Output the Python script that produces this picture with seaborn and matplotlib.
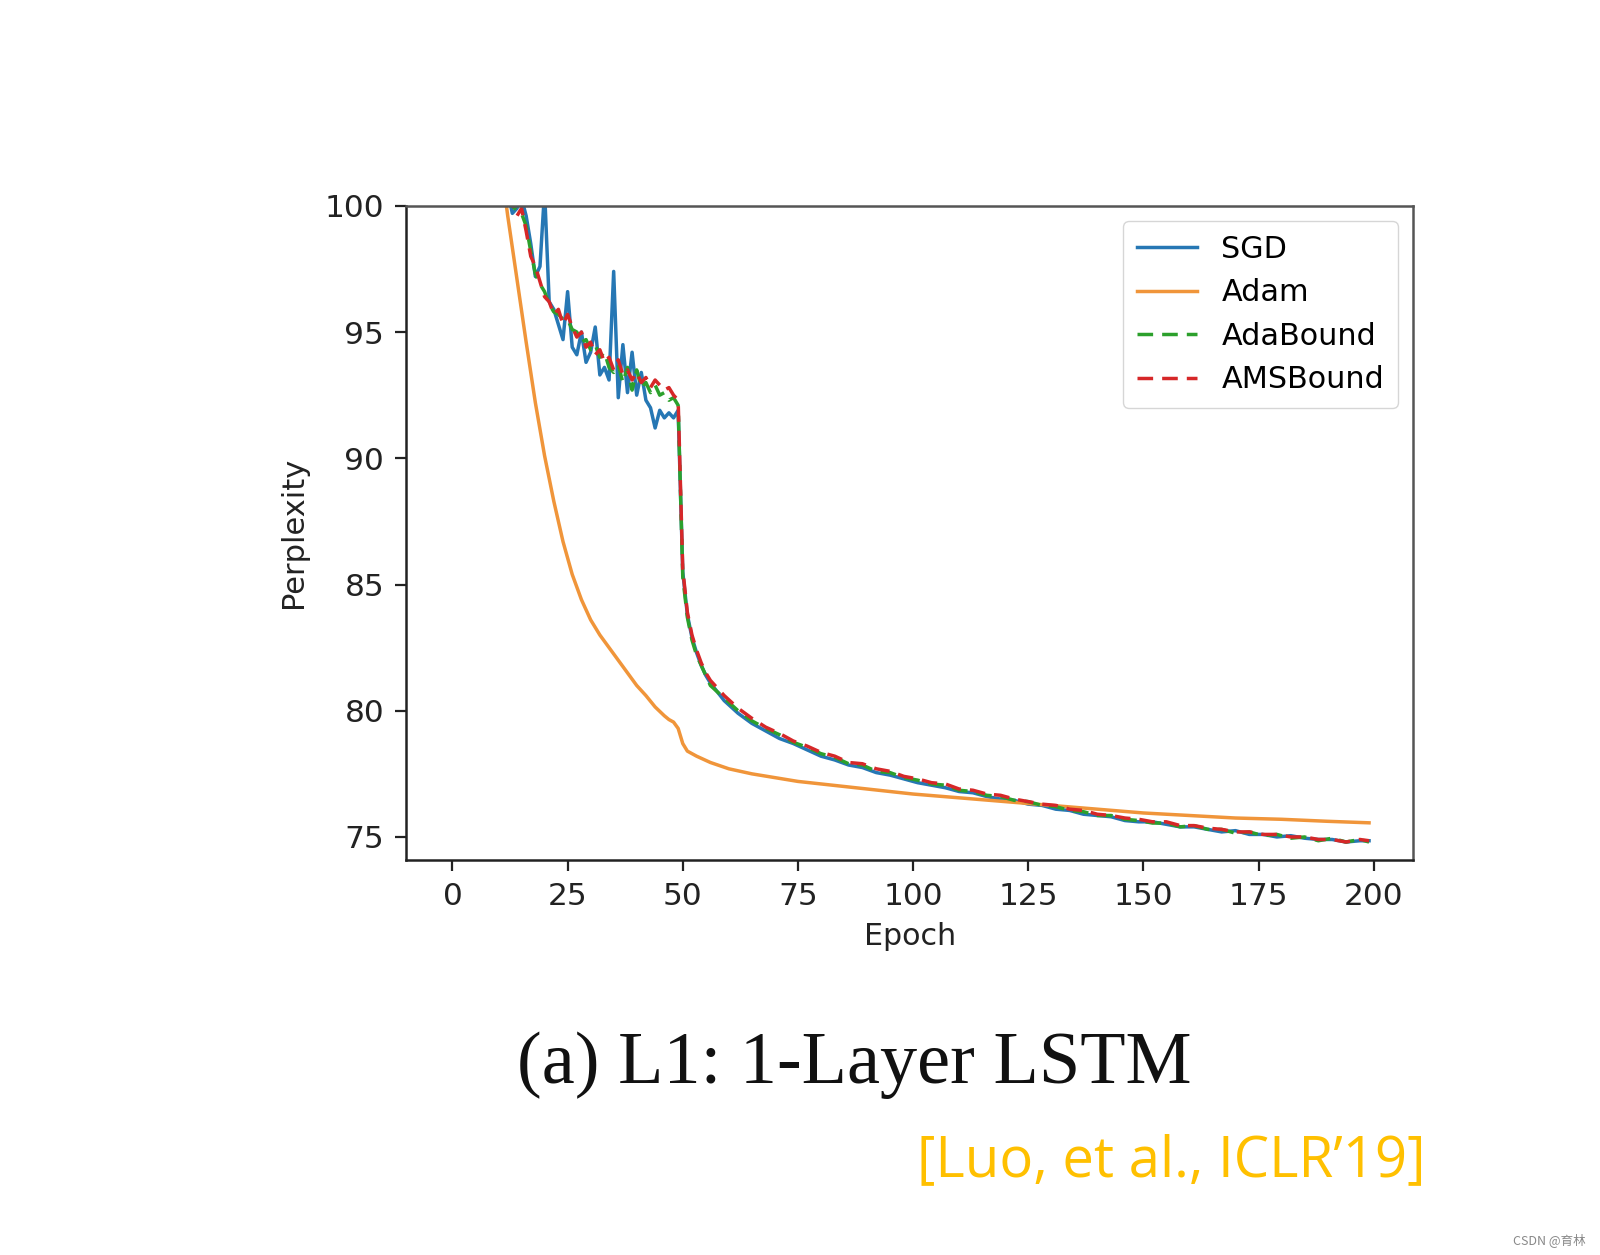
import matplotlib
matplotlib.use("Agg")
import matplotlib.pyplot as plt
import seaborn as sns

# epochs shared by SGD / AdaBound / AMSBound
bound_epochs = list(range(10, 57)) + list(range(59, 198, 3)) + [199]

sgd = [102.5, 101.5, 100.6, 99.7, 99.9, 100.3, 99.6, 98.5, 97.2, 97.6,
       100.6, 96.2, 95.9, 95.3, 94.7, 96.6, 94.4, 94.1, 95.0, 93.8,
       94.2, 95.2, 93.3, 93.6, 93.1, 97.4, 92.4, 94.5, 92.6, 94.2,
       92.5, 93.4, 92.3, 92.0, 91.2, 91.9, 91.6, 91.8, 91.6, 91.9,
       85.5, 83.8, 82.9, 82.3, 81.8, 81.4, 81.1,
       80.4, 79.9, 79.5, 79.2, 78.9, 78.7, 78.45, 78.2, 78.05, 77.85,
       77.75, 77.55, 77.45, 77.3, 77.15, 77.05, 76.95, 76.8, 76.75, 76.6,
       76.5, 76.45, 76.3, 76.25, 76.1, 76.05, 75.9, 75.85, 75.8, 75.65,
       75.6, 75.6, 75.5, 75.4, 75.4, 75.3, 75.2, 75.25, 75.1, 75.1,
       75.0, 75.05, 74.95, 74.9, 74.9, 74.8, 74.85, 74.85]

adabound = [102.3, 101.3, 100.5, 100.0, 99.8, 99.7, 99.2, 98.2, 97.3, 96.9,
            96.6, 96.1, 95.8, 95.7, 95.5, 95.5, 95.1, 95.0, 94.6, 94.7,
            94.3, 94.5, 94.0, 94.2, 93.6, 93.4, 93.7, 93.0, 93.6, 92.7,
            93.5, 92.8, 93.0, 92.6, 92.9, 92.5, 92.6, 92.3, 92.4, 92.1,
            85.3, 83.7, 82.8, 82.2, 81.8, 81.4, 81.0,
            80.5, 80.0, 79.6, 79.3, 79.05, 78.75, 78.55, 78.3, 78.15, 77.9,
            77.85, 77.6, 77.55, 77.35, 77.25, 77.1, 77.05, 76.85, 76.8, 76.65,
            76.6, 76.45, 76.4, 76.25, 76.2, 76.05, 76.0, 75.85, 75.85, 75.7,
            75.65, 75.55, 75.55, 75.4, 75.45, 75.3, 75.3, 75.15, 75.2, 75.05,
            75.1, 74.95, 75.0, 74.85, 74.95, 74.8, 74.9, 74.8]

amsbound = [102.4, 101.2, 100.4, 100.1, 99.6, 99.9, 99.0, 98.0, 97.6, 97.0,
            96.4, 96.2, 95.7, 95.9, 95.3, 95.7, 95.2, 94.8, 95.0, 94.4,
            94.6, 94.1, 94.3, 93.8, 94.0, 93.5, 93.9, 93.3, 93.5, 93.1,
            93.4, 93.0, 93.2, 92.8, 93.1, 92.9, 92.7, 92.8, 92.5, 92.3,
            85.6, 83.9, 83.0, 82.4, 81.9, 81.5, 81.2,
            80.6, 80.1, 79.7, 79.35, 79.1, 78.8, 78.6, 78.35, 78.2, 77.95,
            77.9, 77.7, 77.6, 77.4, 77.3, 77.15, 77.1, 76.9, 76.85, 76.7,
            76.65, 76.5, 76.4, 76.3, 76.25, 76.1, 76.05, 75.9, 75.85, 75.75,
            75.7, 75.6, 75.6, 75.45, 75.45, 75.35, 75.3, 75.2, 75.2, 75.1,
            75.1, 75.0, 75.0, 74.9, 74.9, 74.8, 74.9, 74.85]

adam_epochs = [10, 12, 14, 16, 18, 20, 22, 24, 26, 28, 30, 32, 34, 36, 38,
               40, 42, 44, 46, 47, 48, 49, 50, 51, 53, 56, 60, 65, 70, 75,
               80, 90, 100, 110, 120, 130, 140, 150, 160, 170, 180, 190, 199]
adam = [102.4, 99.6, 97.1, 94.6, 92.2, 90.1, 88.3, 86.7, 85.4, 84.4,
        83.6, 83.0, 82.5, 82.0, 81.5, 81.0, 80.6, 80.15, 79.8, 79.65,
        79.55, 79.3, 78.7, 78.4, 78.2, 77.95, 77.7, 77.5, 77.35, 77.2,
        77.1, 76.9, 76.7, 76.55, 76.4, 76.25, 76.1, 75.95, 75.85, 75.75,
        75.7, 75.62, 75.56]

x_ticks = [0, 25, 50, 75, 100, 125, 150, 175, 200]
y_ticks = [75, 80, 85, 90, 95, 100]

plt.rcParams['font.family'] = ['DejaVu Sans']

fig = plt.figure(figsize=(16, 12.55), dpi=100)
ax = fig.add_axes([0.254, 0.315, 0.629, 0.521])

lw = 2.5
dash = (0, (4.5, 2.6))
sns.lineplot(x=bound_epochs, y=sgd, ax=ax, color='#2677b4', lw=lw, label='SGD')
sns.lineplot(x=adam_epochs, y=adam, ax=ax, color='#f0953a', lw=lw, label='Adam')
sns.lineplot(x=bound_epochs, y=adabound, ax=ax, color='#2ca02c', lw=lw,
             linestyle=dash, label='AdaBound')
sns.lineplot(x=bound_epochs, y=amsbound, ax=ax, color='#d62728', lw=lw,
             linestyle=dash, label='AMSBound')

ax.set_xlim(-10, 208.5)
ax.set_ylim(74.1, 100)
ax.set_xticks(x_ticks)
ax.set_yticks(y_ticks)
ax.tick_params(labelsize=22.5, length=8, width=1.6, colors='#222222', pad=8)
for side, sp in ax.spines.items():
    sp.set_linewidth(1.8)
    sp.set_color('#222222' if side in ('left', 'bottom') else '#555555')
ax.set_xlabel('Epoch', fontsize=21.7, color='#222222', labelpad=8)
ax.set_ylabel('Perplexity', fontsize=22, color='#222222', labelpad=12)

leg = ax.legend(loc='upper right', fontsize=21.8, handlelength=2.0,
                handletextpad=0.8, labelspacing=0.48, borderpad=0.45,
                borderaxespad=0.5, framealpha=0.8)
leg.get_frame().set_edgecolor('#cccccc')

fig.text(0.534, 0.151, '(a) L1: 1-Layer LSTM', family='Liberation Serif',
         fontsize=53.5, ha='center', va='center', color='#111111')
fig.text(0.891, 0.063, '[Luo, et al., ICLR\u201919]', family='Open Sans',
         fontsize=40.5, ha='right', va='baseline', color='#FFC000')
fig.text(0.991, 0.012, 'CSDN @育林', family=['Noto Sans CJK SC', 'DejaVu Sans'],
         fontsize=9, ha='right', va='center', color='#888888')

fig.savefig('out.png', dpi=100)
